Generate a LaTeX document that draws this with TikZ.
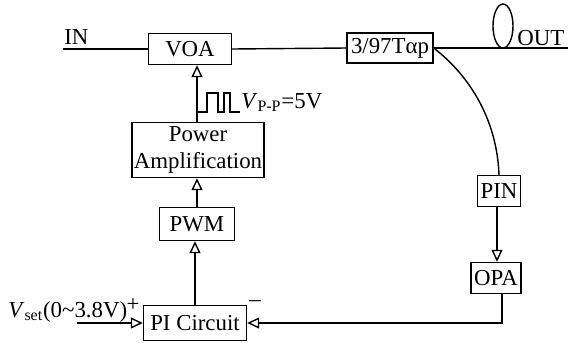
\documentclass[tikz,border=0pt]{standalone}
\usepackage{fontspec}
\setmainfont{Liberation Serif}
\usetikzlibrary{positioning, arrows.meta, calc}

\begin{document}
\begin{tikzpicture}[
    x=0.02cm, y=-0.02cm,
    font=\fontsize{13}{15}\selectfont,
    block/.style={rectangle, draw=black, line width=0.8pt, fill=white,
                  inner sep=1pt, align=center},
    arrow/.style={-{Triangle[open, length=0.24cm, width=0.22cm]}, line width=0.8pt},
    wire/.style={line width=0.8pt}
  ]
    \useasboundingbox (0,0) rectangle (575,342);

    % optical path
    \node[block, minimum width=1.66cm, minimum height=0.62cm] (voa) at (190,49) {VOA};
    \node[block, minimum width=1.72cm, minimum height=0.60cm] (tap) at (390,48) {3/97Tαp};
    \coordinate (inend) at (63,49);
    \coordinate (outend) at (568,48);
    \node[anchor=base west, inner sep=0pt] (inlabel) at (64,44) {IN};
    \node[anchor=base west, inner sep=0pt] (outlabel) at (517,45) {OUT};
    \draw[wire] (inend) -- (voa.west);
    \draw[wire] (voa.east) -- (tap.west);
    \draw[wire] (tap.east) -- (outend);
    \draw[wire] (503,26) ellipse [x radius=0.2cm, y radius=0.44cm];

    % control chain
    \node[block, minimum width=2.64cm, minimum height=1.10cm] (pa) at (198,150) {Power\\Amplification};
    \node[block, minimum width=1.50cm, minimum height=0.66cm] (pwm) at (197,224) {PWM};
    \node[block, minimum width=2.06cm, minimum height=0.70cm] (pi) at (195,323) {PI Circuit};
    \node[block, minimum width=0.86cm, minimum height=0.62cm] (pin) at (499,191) {PIN};
    \node[block, minimum width=1.00cm, minimum height=0.62cm] (opa) at (496,278) {OPA};

    \draw[arrow] (pi.north) -- (pi.north |- pwm.south);
    \draw[arrow] (pwm.north) -- (pwm.north |- pa.south);
    \draw[arrow] ([xshift=-0.02cm]pa.north) -- ([xshift=-0.02cm]pa.north |- voa.south);
    \draw[wire] (tap.east) .. controls (470,76) and (497,120) .. (pin.north);
    \draw[arrow] ([xshift=-0.04cm]pin.south) -- ([xshift=-0.04cm]pin.south |- opa.north);
    \draw[arrow] ([xshift=0.12cm]opa.south) |- (pi.east);

    % PWM waveform
    \coordinate (pulse) at (197,112);
    \draw[wire] (pulse) -- ++(10,0) -- ++(0,-19) -- ++(11,0) -- ++(0,19)
        -- ++(6,0) -- ++(0,-19) -- ++(6,0) -- ++(0,19) -- ++(10,0);
    \node[anchor=base west, inner sep=0pt] (vpp) at (241,108)
        {\textit{V}\textsubscript{P-P}=5V};

    % set point input
    \coordinate (setin) at (77,323);
    \node[anchor=base west, inner sep=0pt] (vset) at (8,317)
        {\textit{V}\textsubscript{set}(0\textasciitilde3.8V)};
    \draw[arrow] (setin) -- (pi.west);
    \node[inner sep=0pt] (plus) at (133,305) {+};
    \node[inner sep=0pt] (minus) at (255,304) {\textendash};
\end{tikzpicture}
\end{document}
